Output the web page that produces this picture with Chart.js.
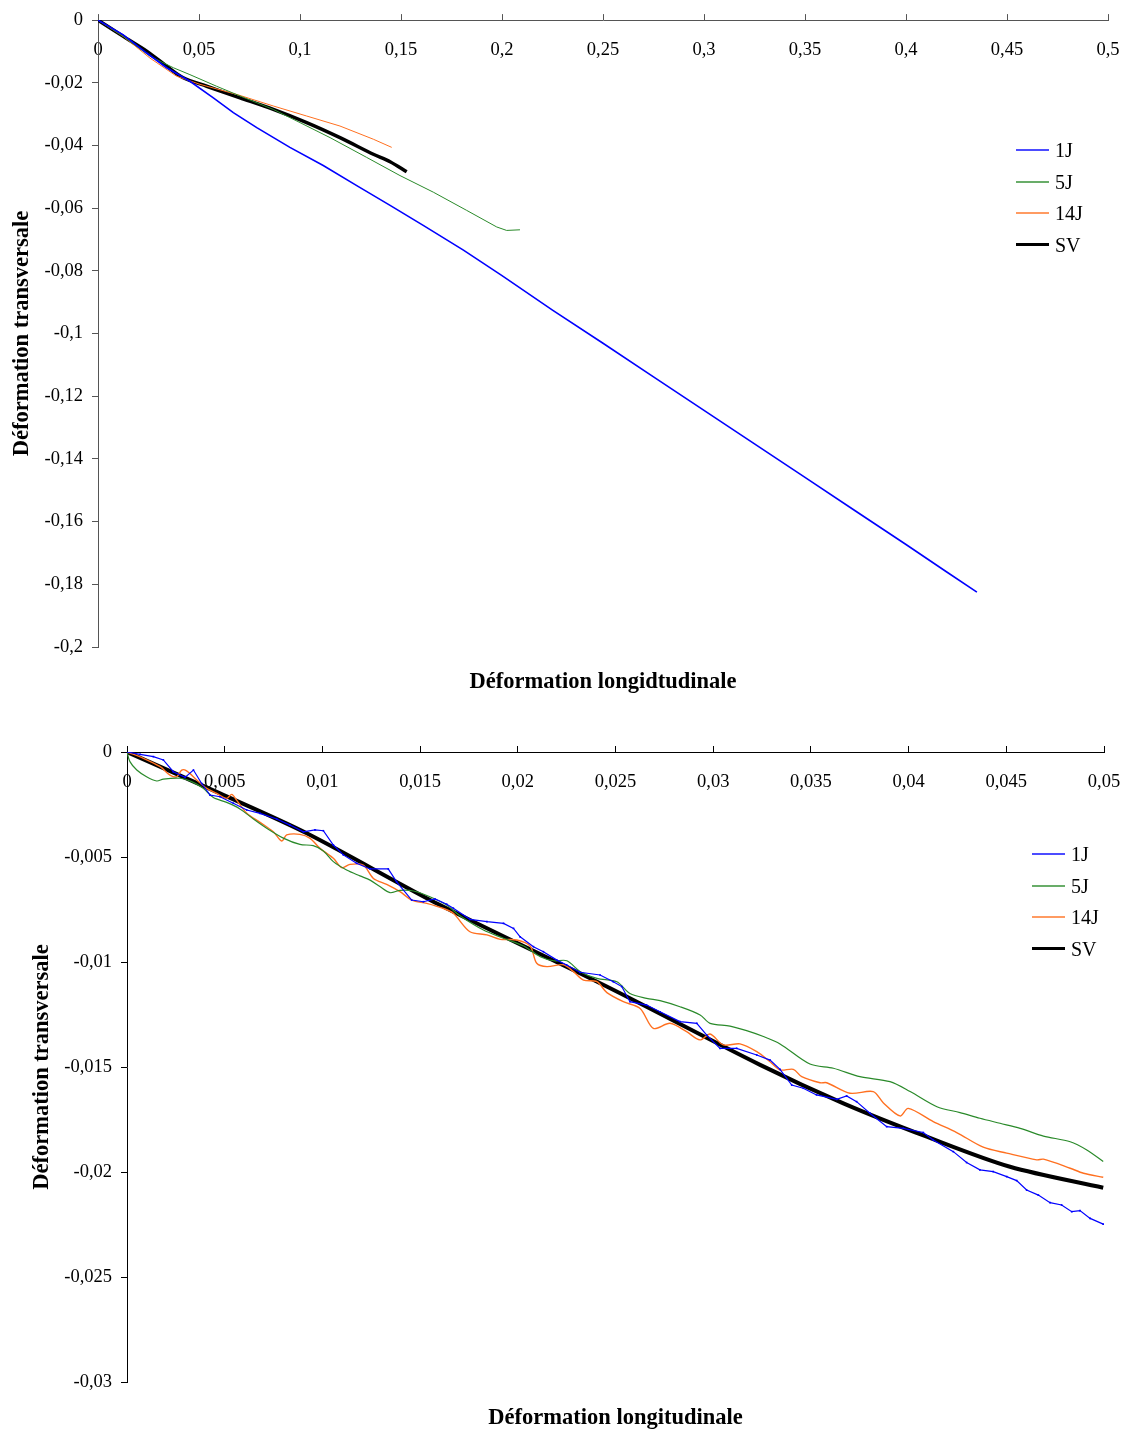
<!DOCTYPE html>
<html>
<head>
<meta charset="utf-8">
<script src="https://cdn.jsdelivr.net/npm/chart.js@4.4.1/dist/chart.umd.min.js"></script>
<style>
  body { margin: 0; background: #fff; }
  #page { position: relative; width: 1125px; height: 1430px; overflow: hidden; }
  canvas { position: absolute; left: 0; }
  .legende { position: absolute; font-family: "Liberation Serif", "Times New Roman", serif; font-size: 20px; color: #000; }
  .legende .ligne { position: absolute; left: 0; height: 0; white-space: nowrap; }
  .legende .trait { position: absolute; left: 0; width: 33px; }
  .legende .texte { position: absolute; left: 39px; top: -12px; line-height: 24px; }
</style>
</head>
<body>
<div id="page">
  <canvas id="graphe-haut" width="1125" height="715" style="top:0"></canvas>
  <canvas id="graphe-bas" width="1125" height="715" style="top:715px"></canvas>
  <div id="legende-haut" class="legende" style="left:1016px; top:150px"></div>
  <div id="legende-bas" class="legende" style="left:1032px; top:854px"></div>
</div>
<script>
// Légende
const series = ["1J", "5J", "14J", "SV"];
const couleurs = ["#0000ff", "#2a8a2a", "#ff7020", "#000000"];

// Graphique du haut : 0 à 0,5
const haut1Jx = [0, 0.0125, 0.0241, 0.034, 0.0455, 0.0571, 0.067, 0.0786, 0.095, 0.1115, 0.1281, 0.1446, 0.161, 0.1809, 0.2, 0.225, 0.25, 0.275, 0.3, 0.325, 0.35, 0.375, 0.4, 0.42, 0.4351];
const haut1Jy = [0, -0.0047, -0.0105, -0.0152, -0.0195, -0.0248, -0.0295, -0.0343, -0.0406, -0.0464, -0.0528, -0.0591, -0.0655, -0.0734, -0.0815, -0.0925, -0.1031, -0.1138, -0.1245, -0.1352, -0.1459, -0.1566, -0.1673, -0.176, -0.1825];
const haut5Jx = [0, 0.0125, 0.0257, 0.0373, 0.0455, 0.0587, 0.0703, 0.0868, 0.1, 0.1149, 0.133, 0.1495, 0.166, 0.1825, 0.1974, 0.2023, 0.2089];
const haut5Jy = [0, -0.0052, -0.0115, -0.0152, -0.0174, -0.0211, -0.0242, -0.0285, -0.0327, -0.0375, -0.0438, -0.0496, -0.0549, -0.0607, -0.066, -0.0671, -0.0669];
const haut14Jx = [0, 0.0125, 0.0257, 0.0389, 0.0505, 0.0686, 0.0868, 0.1033, 0.1198, 0.1363, 0.1454];
const haut14Jy = [0, -0.0052, -0.0121, -0.0179, -0.0205, -0.0237, -0.0274, -0.0306, -0.0338, -0.038, -0.0406];
const hautSVx = [0, 0.0125, 0.0241, 0.034, 0.0422, 0.0538, 0.0703, 0.0868, 0.1033, 0.1198, 0.1363, 0.1446, 0.1528];
const hautSVy = [0, -0.0052, -0.0099, -0.0147, -0.0184, -0.0211, -0.0248, -0.0285, -0.0327, -0.0375, -0.0428, -0.0452, -0.0484];

// Graphique du bas : zoom 0 à 0,05
const bas1Jx = [0, 0.00067, 0.00135, 0.00186, 0.00237, 0.00297, 0.0034, 0.00382, 0.00425, 0.00476, 0.00544, 0.00613, 0.00681, 0.00766, 0.00834, 0.00903, 0.00962, 0.01005, 0.01056, 0.01107, 0.01175, 0.01244, 0.01337, 0.0138, 0.01457, 0.01517, 0.01576, 0.01636,
  0.0167, 0.01755, 0.01842, 0.01927, 0.01978, 0.02012, 0.0208, 0.02131, 0.022, 0.0225, 0.02318, 0.02421, 0.02489, 0.02532, 0.02574, 0.02659, 0.02728, 0.0283, 0.02916, 0.02967, 0.03035, 0.0312, 0.03223, 0.03291, 0.03342,
  0.03402, 0.03461, 0.03529, 0.03632, 0.03683, 0.03734, 0.03802, 0.03888, 0.03973, 0.04075, 0.04126, 0.04229, 0.04297, 0.04365, 0.04433, 0.04502, 0.04553, 0.04604, 0.04664, 0.04724, 0.04783, 0.04835, 0.04877, 0.04929, 0.04996];
const bas1Jy = [0, -0.00011, -0.00022, -0.00038, -0.00094, -0.00121, -0.00086, -0.0015, -0.00205, -0.00213, -0.00244, -0.00276, -0.00292, -0.00319, -0.00348, -0.0038, -0.00371, -0.00375, -0.00443, -0.0049, -0.0053, -0.00557, -0.00557, -0.00618, -0.00705, -0.00713, -0.007, -0.00725,
  -0.00744, -0.00797, -0.00808, -0.00816, -0.0084, -0.0088, -0.00927, -0.00951, -0.00991, -0.01014, -0.01049, -0.01062, -0.01094, -0.01117, -0.01189, -0.01205, -0.01237, -0.01284, -0.01292, -0.01348, -0.01411, -0.01411, -0.01443, -0.01467, -0.01511,
  -0.01586, -0.01601, -0.01633, -0.01654, -0.01638, -0.01665, -0.0172, -0.01784, -0.01792, -0.01812, -0.01848, -0.01903, -0.01955, -0.0199, -0.01998, -0.02022, -0.02041, -0.02086, -0.0211, -0.02146, -0.02157, -0.02189, -0.02184, -0.02221, -0.02248];
const bas5Jx = [0, 0.00015, 0.0005, 0.001, 0.00152, 0.00186, 0.00271, 0.00331, 0.0039, 0.00442, 0.0051, 0.00578, 0.00647, 0.00715, 0.008, 0.00885, 0.00953, 0.01005, 0.01056, 0.01124, 0.01192, 0.01244, 0.01294, 0.01346, 0.01397, 0.01465, 0.0155, 0.01636, 0.01704,
  0.01824, 0.01927, 0.0203, 0.02115, 0.02183, 0.02251, 0.0232, 0.02405, 0.02507, 0.02574, 0.02659, 0.02728, 0.0283, 0.02933, 0.02984, 0.03086, 0.03171, 0.03257, 0.03342,
  0.03495, 0.03615, 0.03751, 0.03905, 0.04008, 0.04145, 0.04263, 0.04365, 0.04468, 0.04571, 0.0469, 0.04827, 0.04912, 0.04996];
const bas5Jy = [0, -0.00046, -0.00086, -0.00118, -0.00138, -0.00129, -0.00125, -0.00141, -0.00173, -0.00217, -0.0024, -0.00271, -0.00319, -0.00363, -0.0041, -0.0044, -0.00446, -0.00471, -0.00522, -0.00562, -0.0059, -0.0061, -0.00641, -0.0067, -0.00659, -0.00662, -0.00689, -0.00729, -0.0078,
  -0.00848, -0.00887, -0.00924, -0.00975, -0.00994, -0.00994, -0.01046, -0.01078, -0.01094, -0.0115, -0.01173, -0.01184, -0.01213, -0.01252, -0.01292, -0.01305, -0.01327, -0.01355, -0.0139,
  -0.01486, -0.01506, -0.01546, -0.0157, -0.01617, -0.01689, -0.01717, -0.01744, -0.01768, -0.01792, -0.01829, -0.01856, -0.01895, -0.0195];
const bas14Jx = [0, 0.00084, 0.0017, 0.0022, 0.00254, 0.0028, 0.00305, 0.00357, 0.00408, 0.00459, 0.0051, 0.00536, 0.00561, 0.00613, 0.00681, 0.00749, 0.00792, 0.00817, 0.00885, 0.00937, 0.00988, 0.01056, 0.01099, 0.01141, 0.01209, 0.01261, 0.01329, 0.01397, 0.01457, 0.01534, 0.01619,
  0.0167, 0.01755, 0.01842, 0.0191, 0.01995, 0.02063, 0.02097, 0.02149, 0.02234, 0.02285, 0.02336, 0.02405, 0.02456, 0.0254, 0.02626, 0.02694, 0.02779, 0.02864, 0.02932, 0.02984, 0.03052, 0.03137, 0.03223, 0.03291, 0.03342,
  0.0341, 0.03453, 0.03547, 0.03581, 0.037, 0.03819, 0.0387, 0.03956, 0.03998, 0.04126, 0.04246, 0.04382, 0.04502, 0.04656, 0.0469, 0.04827, 0.04895, 0.04996];
const bas14Jy = [0, -0.0003, -0.0007, -0.0011, -0.00118, -0.00086, -0.0009, -0.00133, -0.00173, -0.00197, -0.00221, -0.00202, -0.00229, -0.00292, -0.00335, -0.0038, -0.00424, -0.00395, -0.00392, -0.00411, -0.00459, -0.00506, -0.00551, -0.00535, -0.00538, -0.00602, -0.0063, -0.00665, -0.00705, -0.00721, -0.00745,
  -0.00768, -0.00856, -0.00871, -0.00892, -0.00895, -0.00924, -0.01006, -0.01022, -0.01013, -0.01046, -0.01086, -0.01094, -0.01146, -0.01189, -0.01221, -0.01316, -0.01292, -0.01332, -0.01371, -0.01343, -0.01395, -0.0139, -0.01427, -0.01475, -0.01514,
  -0.01511, -0.01546, -0.01575, -0.01575, -0.01625, -0.01617, -0.0167, -0.01733, -0.01697, -0.0176, -0.01812, -0.01882, -0.0191, -0.01942, -0.01939, -0.01982, -0.02006, -0.02025];
const basSVx = [0, 0.00476, 0.0092, 0.01602, 0.02455, 0.0324, 0.03666, 0.04093, 0.04519, 0.04996];
const basSVy = [0, -0.00197, -0.00387, -0.00729, -0.01117, -0.0149, -0.01673, -0.01832, -0.01975, -0.02075];

const police = "'Liberation Serif', 'Times New Roman', serif";

// 0.05 -> "0,05"
function formatTick(v) {
  const r = Math.round(v * 1e6) / 1e6;
  return r === 0 ? "0" : String(r).replace(".", ",");
}

function points(xs, ys) {
  return xs.map((x, i) => ({ x: x, y: ys[i] }));
}

function serie(i, xs, ys, largeur, extra) {
  return Object.assign({
    label: series[i],
    data: points(xs, ys),
    showLine: true,
    borderColor: couleurs[i],
    backgroundColor: couleurs[i],
    borderWidth: largeur,
    pointRadius: 0,
    tension: 0
  }, extra || {});
}

function graphique(id, cfg) {
  return new Chart(document.getElementById(id), {
    type: "scatter",
    data: { datasets: cfg.datasets },
    options: {
      responsive: false,
      devicePixelRatio: 1,
      animation: false,
      layout: { padding: cfg.padding },
      plugins: { legend: { display: false }, tooltip: { enabled: false } },
      scales: {
        x: {
          type: "linear",
          position: "top",
          min: 0,
          max: cfg.xMax,
          ticks: {
            stepSize: cfg.xStep,
            // étiquettes sous l'axe : la hauteur de ligne les décale de 30 px
            mirror: true,
            padding: 0,
            autoSkip: false,
            maxRotation: 0,
            color: "#000",
            font: { family: police, size: 18.5, lineHeight: "60px" },
            callback: formatTick
          },
          grid: { drawOnChartArea: false, tickLength: 6, color: cfg.couleurAxe },
          border: { color: cfg.couleurAxe, width: 1 },
          afterFit: (s) => { s.height = 6; }
        },
        x2: {
          type: "linear",
          position: "bottom",
          ticks: { display: false },
          grid: { display: false },
          border: { display: false },
          title: {
            display: true,
            text: cfg.titreX,
            color: "#000",
            font: { family: police, size: 22.5, weight: "bold", lineHeight: 1 },
            padding: { top: 0, bottom: cfg.padTitreX }
          },
          afterFit: (s) => { s.height = cfg.hauteurX2; }
        },
        y: {
          type: "linear",
          min: cfg.yMin,
          max: 0,
          ticks: {
            stepSize: cfg.yStep,
            padding: 9,
            autoSkip: false,
            color: "#000",
            font: { family: police, size: 18.5 },
            callback: formatTick
          },
          grid: { drawOnChartArea: false, tickLength: 6, color: cfg.couleurAxe },
          border: { color: cfg.couleurAxe, width: 1 },
          title: {
            display: true,
            text: "Déformation transversale",
            color: "#000",
            font: { family: police, size: 22.5, weight: "bold", lineHeight: 1 },
            padding: { top: cfg.padTitreY, bottom: 0 }
          },
          afterFit: (s) => { s.width = cfg.largeurY; }
        }
      }
    }
  });
}

function legende(id, chart) {
  const boite = document.getElementById(id);
  chart.data.datasets.forEach((ds, i) => {
    const sv = ds.label === "SV";
    const epaisseur = sv ? 3 : 2;
    const ligne = document.createElement("div");
    ligne.className = "ligne";
    ligne.style.top = (i * 31.5) + "px";
    ligne.innerHTML = '<span class="trait" style="border-top:' + epaisseur + 'px solid ' + ds.borderColor +
      '; top:' + (-epaisseur / 2) + 'px; opacity:' + (sv ? 1 : 0.7) + '"></span><span class="texte">' + ds.label + '</span>';
    boite.appendChild(ligne);
  });
}

const grapheHaut = graphique("graphe-haut", {
  datasets: [
    serie(0, haut1Jx, haut1Jy, 1.6),
    serie(1, haut5Jx, haut5Jy, 1),
    serie(2, haut14Jx, haut14Jy, 1),
    serie(3, hautSVx, hautSVy, 3.5, { tension: 0.3 })
  ],
  padding: { top: 11, left: 0, right: 17, bottom: 17.75 },
  xMax: 0.5, xStep: 0.05,
  yMin: -0.2, yStep: 0.02,
  couleurAxe: "#555",
  titreX: "Déformation longidtudinale",
  padTitreX: 4, hauteurX2: 50.25,
  padTitreY: 10.75, largeurY: 98
});

const grapheBas = graphique("graphe-bas", {
  datasets: [
    serie(0, bas1Jx, bas1Jy, 1.2, { pointRadius: 1.2, pointStyle: "rect", pointBorderWidth: 0 }),
    serie(1, bas5Jx, bas5Jy, 1.2, { tension: 0.3 }),
    serie(2, bas14Jx, bas14Jy, 1.4, { tension: 0.3 }),
    serie(3, basSVx, basSVy, 4, { tension: 0.3 })
  ],
  padding: { top: 31, left: 0, right: 21, bottom: 0 },
  xMax: 0.05, xStep: 0.005,
  yMin: -0.03, yStep: 0.005,
  couleurAxe: "#000",
  titreX: "Déformation longitudinale",
  padTitreX: 0.75, hauteurX2: 48,
  padTitreY: 30.75, largeurY: 127
});

legende("legende-haut", grapheHaut);
legende("legende-bas", grapheBas);
</script>
</body>
</html>
